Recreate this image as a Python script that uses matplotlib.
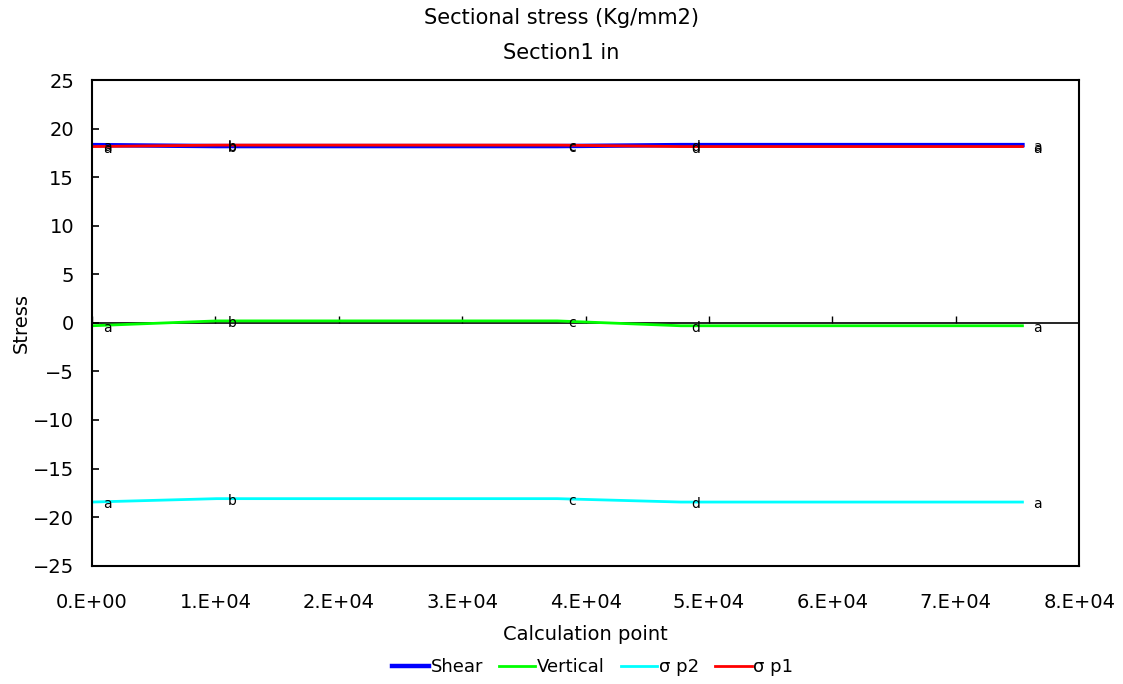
import matplotlib
matplotlib.use("Agg")
import matplotlib.pyplot as plt
import numpy as np

plt.rcParams['font.family'] = ['DejaVu Sans']

# --- section stress results at each calculation point ---
calc_points = [0, 10100, 37700, 47700, 75400]
point_names = ["a", "b", "c", "d", "a"]

shear = [18.3, 18.2, 18.2, 18.3, 18.3]
vertical = [-0.3, 0.2, 0.2, -0.3, -0.3]
sigma_p2 = [-18.45, -18.1, -18.1, -18.45, -18.45]
sigma_p1 = [18.15, 18.3, 18.3, 18.15, 18.15]

x_ticks = np.arange(0, 80001, 10000)
y_ticks = np.arange(-25, 26, 5)

fig = plt.figure(figsize=(11.23, 6.84), dpi=100)
ax = fig.add_axes([0.082, 0.173, 0.879, 0.710])

series = [
    ("Shear", shear, "#0000ff", 3.2),
    ("Vertical", vertical, "#00ff00", 2.0),
    ("σ p2", sigma_p2, "#00ffff", 2.0),
    ("σ p1", sigma_p1, "#ff0000", 2.0),
]

# zero line with its own tick marks
ax.axhline(0, color="black", lw=1.2, zorder=1)
ax.plot(x_ticks, np.zeros(len(x_ticks)), ls="none", marker=2, ms=5,
        mew=1.0, color="black", zorder=1)

for name, vals, col, lw in series:
    ax.plot(calc_points, vals, color=col, lw=lw, label=name, zorder=2)

# point labels next to each point
for name, vals, col, lw in series:
    for xp, yp, lab in zip(calc_points, vals, point_names):
        ax.annotate(lab, (xp, yp), xytext=(11, -1.5), textcoords="offset points",
                    ha="center", va="center", fontsize=10, zorder=3)

ax.set_xlim(0, 80000)
ax.set_ylim(-25, 25)
ax.set_xticks(x_ticks)
ax.set_xticklabels([f"{int(v / 10000)}.E+{'00' if v == 0 else '04'}" for v in x_ticks])
ax.set_yticks(y_ticks)
ax.set_yticklabels([f"{v:d}".replace("-", "\u2212") for v in y_ticks])
ax.tick_params(axis="x", length=0, pad=20, labelsize=14)
ax.tick_params(axis="y", direction="in", length=5, width=1.2, pad=13, labelsize=14)
for sp in ax.spines.values():
    sp.set_linewidth(1.5)

ax.set_xlabel("Calculation point", fontsize=14, labelpad=9)
ax.set_ylabel("Stress", fontsize=14)
ax.yaxis.set_label_coords(-0.062, 0.5)
fig.text(0.5, 0.973, "Sectional stress (Kg/mm2)", ha="center", va="center", fontsize=15)
fig.text(0.5, 0.922, "Section1 in", ha="center", va="center", fontsize=15)

fig.legend(loc="center", bbox_to_anchor=(0.528, 0.025), ncol=4, frameon=False,
           fontsize=13, handlelength=2.0, handletextpad=0.1, columnspacing=0.9)

fig.savefig("out.png", dpi=100)
